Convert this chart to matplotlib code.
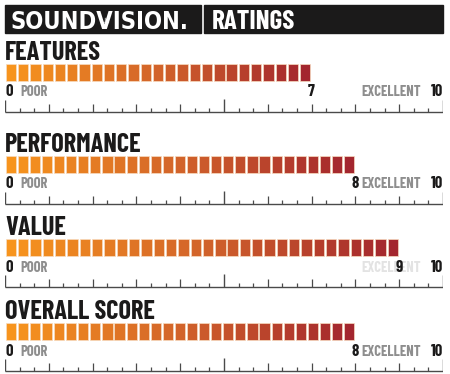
import numpy as np
import matplotlib
matplotlib.use("Agg")
import matplotlib.pyplot as plt
from matplotlib.colors import LinearSegmentedColormap
from matplotlib.patches import Rectangle

# ratings data
categories = ["FEATURES", "PERFORMANCE", "VALUE", "OVERALL SCORE"]
scores = [7, 8, 9, 8]
scale_min, scale_max = 0, 10
low_label, high_label = "POOR", "EXCELLENT"
brand = "SOUNDVISION."
header = "RATINGS"

W, H = 450, 374
NARROW = ["Barlow Condensed", "DejaVu Sans"]
DARK = "#1b1a1a"
GREY = "#8e8e8e"
seg_per_unit = 3.6
bar_cmap = LinearSegmentedColormap.from_list("rating", ["#f7941d", "#d2632a", "#a3262e"])


def narrow_text(ax, x, y, s, size, color=DARK, **kw):
    return ax.text(x, y, s, fontsize=size, fontweight="bold", family=NARROW,
                   fontstretch="condensed", color=color, va="baseline", **kw)


fig = plt.figure(figsize=(W / 100, H / 100), dpi=100)
fig.patch.set_facecolor("white")

# header strip, in pixel coordinates
hdr = fig.add_axes([0, 0, 1, 1])
hdr.set_xlim(0, W)
hdr.set_ylim(H, 0)
hdr.axis("off")
hdr.add_patch(Rectangle((5, 5), 196, 28, color=DARK))
hdr.add_patch(Rectangle((204, 5), 239, 28, color=DARK))
hdr.text(10, 28.5, brand, color="white", fontsize=17, family="DejaVu Sans",
         fontweight="bold", fontstretch="condensed", va="baseline")
# little crosshair on the logo's V
hdr.plot([101, 108], [21.5, 21.5], color="#9a9a9a", lw=1)
hdr.plot([104.5, 104.5], [18, 25], color="#9a9a9a", lw=1)
narrow_text(hdr, 212, 28.5, header, 19.5, color="white", ha="left")

bar_tops = [64, 156, 239, 323]
x0, x1 = 5, 443

for name, score, top in zip(categories, scores, bar_tops):
    ax = fig.add_axes([x0 / W, 1 - (top + 52) / H, (x1 - x0) / W, 78 / H])
    ax.set_xlim(scale_min, scale_max)
    ax.set_ylim(52, -26)
    ax.axis("off")

    narrow_text(ax, 0, -4, name, 19, ha="left")

    # segmented bar
    n = int(round(score * seg_per_unit))
    pitch = score / n
    xs = np.arange(n) * pitch
    cols = bar_cmap(np.linspace(0, 1, n))
    ax.bar(xs + pitch * 0.06, 17, width=pitch * 0.84, bottom=0, align="edge",
           color=cols, edgecolor="#f8dcc0", linewidth=0.5)

    # labels under the bar
    lab_y = 32.5
    narrow_text(ax, scale_min, lab_y, "0", 12, ha="left")
    narrow_text(ax, 0.34, lab_y, low_label, 10.5, color=GREY, ha="left")
    exc_col = "#e3e3e3" if score > 8.5 else GREY
    narrow_text(ax, 9.5, lab_y, high_label, 10.5, color=exc_col, ha="right")
    narrow_text(ax, scale_max, lab_y, "10", 12, ha="right")
    narrow_text(ax, score, lab_y, str(score), 12, ha="center", zorder=5)

    # ruler
    base = 47.5
    ax.plot([scale_min, scale_max], [base, base], color="#4a4a4a", lw=1, solid_capstyle="butt")
    thirds = np.arange(0, 31) / 3
    small = [t for t in thirds if abs(t - round(t)) > 1e-6]
    ax.vlines(small, base - 4, base, color="#4a4a4a", lw=0.9)
    ax.vlines([1, 2, 3, 4, 6, 7, 8, 9], base - 8, base, color="#4a4a4a", lw=0.9)
    ax.vlines([0, 10], base - 12, base, color="#4a4a4a", lw=1)
    ax.vlines([5], base - 13, base, color="#4a4a4a", lw=1)

fig.savefig("out.png", dpi=100, facecolor="white")
